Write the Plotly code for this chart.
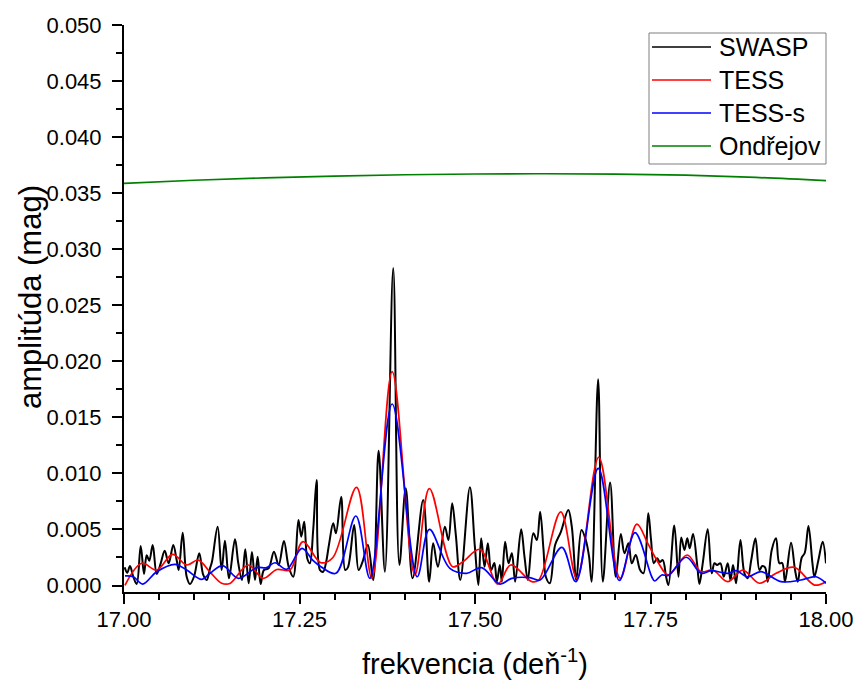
import plotly.graph_objects as go

# ---- data -------------------------------------------------------------
swasp_freq = [
    17.0010, 17.0047, 17.0085, 17.0132, 17.0181, 17.0238, 17.0285, 17.0323, 17.0360, 17.0409,
    17.0466, 17.0523, 17.0580, 17.0636, 17.0702, 17.0750, 17.0779, 17.0836, 17.0893, 17.0940,
    17.0997, 17.1072, 17.1129, 17.1178, 17.1225, 17.1253, 17.1334, 17.1391, 17.1438, 17.1495,
    17.1581, 17.1628, 17.1680, 17.1727, 17.1776, 17.1823, 17.1866, 17.1904, 17.1947, 17.1993,
    17.2060, 17.2136, 17.2203, 17.2278, 17.2345, 17.2411, 17.2485, 17.2525, 17.2567, 17.2610,
    17.2648, 17.2695, 17.2744, 17.2791, 17.2838, 17.2876, 17.2923, 17.2980, 17.3019, 17.3094,
    17.3151, 17.3190, 17.3279, 17.3342, 17.3399, 17.3474, 17.3550, 17.3627, 17.3717, 17.3835,
    17.3923, 17.4013, 17.4111, 17.4262, 17.4347, 17.4404, 17.4471, 17.4571, 17.4621, 17.4675,
    17.4727, 17.4791, 17.4927, 17.4998, 17.5048, 17.5088, 17.5136, 17.5183, 17.5230, 17.5276,
    17.5311, 17.5354, 17.5382, 17.5429, 17.5478, 17.5525, 17.5572, 17.5657, 17.5705, 17.5753,
    17.5831, 17.5881, 17.5928, 17.5976, 17.6009, 17.6066, 17.6141, 17.6222, 17.6329, 17.6379,
    17.6443, 17.6517, 17.6578, 17.6625, 17.6661, 17.6754, 17.6821, 17.6925, 17.7005, 17.7077,
    17.7129, 17.7186, 17.7233, 17.7290, 17.7352, 17.7400, 17.7468, 17.7508, 17.7547, 17.7594,
    17.7632, 17.7675, 17.7722, 17.7756, 17.7839, 17.7898, 17.7938, 17.7984, 17.8024, 17.8059,
    17.8106, 17.8163, 17.8197, 17.8244, 17.8315, 17.8372, 17.8411, 17.8448, 17.8496, 17.8543,
    17.8600, 17.8639, 17.8676, 17.8719, 17.8781, 17.8838, 17.8885, 17.8935, 17.8995, 17.9052,
    17.9092, 17.9132, 17.9170, 17.9227, 17.9288, 17.9336, 17.9376, 17.9416, 17.9502, 17.9559,
    17.9597, 17.9654, 17.9697, 17.9750, 17.9807, 17.9835, 17.9892, 17.9953, 18.0000,
]
swasp_amp = [
    0.00162, 0.00114, 0.00174, 0.00078, 0.00013, 0.00352, 0.00103, 0.00269, 0.00221, 0.00361,
    0.00103, 0.00198, 0.00310, 0.00198, 0.00361, 0.00227, 0.00138, 0.00471, 0.00078, 0.00013,
    0.00078, 0.00287, 0.00094, 0.00049, 0.00153, 0.00212, 0.00524, 0.00138, 0.00400, 0.00064,
    0.00412, 0.00198, 0.00049, 0.00323, 0.00020, 0.00299, 0.00049, 0.00257, 0.00013, 0.00138,
    0.00153, 0.00302, 0.00183, 0.00397, 0.00168, 0.00078, 0.00584, 0.00435, 0.00569, 0.00243,
    0.00198, 0.00495, 0.00941, 0.00138, 0.00123, 0.00198, 0.00376, 0.00555, 0.00466, 0.00792,
    0.00138, 0.00162, 0.00540, 0.00138, 0.00212, 0.00361, 0.00049, 0.01202, 0.00123, 0.02832,
    0.00183, 0.00867, 0.00064, 0.00763, 0.00034, 0.00376, 0.00168, 0.00524, 0.00406, 0.00733,
    0.00450, 0.00049, 0.00876, 0.00346, 0.00004, 0.00421, 0.00168, 0.00376, 0.00138, 0.00201,
    0.00034, 0.00183, 0.00034, 0.00391, 0.00198, 0.00287, 0.00034, 0.00501, 0.00257, 0.00049,
    0.00466, 0.00406, 0.00658, 0.00317, 0.00078, 0.00020, 0.00361, 0.00477, 0.00673, 0.00524,
    0.00049, 0.00495, 0.00406, 0.00257, 0.00034, 0.01839, 0.00034, 0.00919, 0.00078, 0.00459,
    0.00287, 0.00376, 0.00198, 0.00272, 0.00138, 0.00109, 0.00644, 0.00406, 0.00198, 0.00243,
    0.00210, 0.00227, 0.00078, 0.00004, 0.00535, 0.00078, 0.00428, 0.00317, 0.00421, 0.00332,
    0.00459, 0.00198, 0.00013, 0.00198, 0.00501, 0.00109, 0.00198, 0.00183, 0.00198, 0.00078,
    0.00198, 0.00049, 0.00183, 0.00020, 0.00406, 0.00109, 0.00064, 0.00227, 0.00421, 0.00138,
    0.00174, 0.00162, 0.00034, 0.00317, 0.00421, 0.00198, 0.00201, 0.00034, 0.00382, 0.00138,
    0.00034, 0.00248, 0.00290, 0.00531, 0.00198, 0.00078, 0.00227, 0.00391, 0.00198,
]

tess_freq = [
    17.0014, 17.0252, 17.0466, 17.0693, 17.0893, 17.1058, 17.1225, 17.1391, 17.1509, 17.1770,
    17.1983, 17.2178, 17.2364, 17.2549, 17.2805, 17.2976, 17.3313, 17.3531, 17.3820, 17.4143,
    17.4350, 17.4680, 17.4827, 17.5069, 17.5325, 17.5510, 17.5809, 17.5909, 17.6222, 17.6450,
    17.6763, 17.7067, 17.7305, 17.7461, 17.7603, 17.7753, 17.8021, 17.8220, 17.8387, 17.8600,
    17.8814, 17.9052, 17.9288, 17.9550, 17.9835, 18.0000,
]
tess_amp = [
    0.00002, 0.00198, 0.00138, 0.00278, 0.00183, 0.00227, 0.00120, 0.00020, 0.00018, 0.00183,
    0.00064, 0.00143, 0.00138, 0.00391, 0.00203, 0.00250, 0.00876, 0.00064, 0.01907, 0.00094,
    0.00865, 0.00168, 0.00212, 0.00323, 0.00013, 0.00183, 0.00034, 0.00049, 0.00656, 0.00064,
    0.01144, 0.00064, 0.00547, 0.00376, 0.00212, 0.00094, 0.00272, 0.00123, 0.00138, 0.00034,
    0.00138, 0.00020, 0.00109, 0.00162, 0.00004, 0.00034,
]

tess_s_freq = [
    17.0014, 17.0132, 17.0266, 17.0466, 17.0726, 17.0893, 17.1106, 17.1225, 17.1405, 17.1628,
    17.1889, 17.2032, 17.2150, 17.2317, 17.2535, 17.2687, 17.2805, 17.3019, 17.3303, 17.3503,
    17.3820, 17.4176, 17.4350, 17.4642, 17.4880, 17.5093, 17.5354, 17.5525, 17.5781, 17.5928,
    17.6237, 17.6436, 17.6756, 17.7055, 17.7279, 17.7518, 17.7561, 17.7660, 17.7753, 17.8009,
    17.8220, 17.8362, 17.8600, 17.8719, 17.8885, 17.9075, 17.9359, 17.9644, 17.9858, 18.0000,
]
tess_s_amp = [
    0.00085, 0.00078, 0.00013, 0.00123, 0.00189, 0.00138, 0.00055, 0.00109, 0.00177, 0.00064,
    0.00159, 0.00159, 0.00203, 0.00144, 0.00332, 0.00227, 0.00168, 0.00109, 0.00620, 0.00064,
    0.01619, 0.00078, 0.00501, 0.00153, 0.00109, 0.00159, 0.00013, 0.00064, 0.00070, 0.00049,
    0.00340, 0.00034, 0.01044, 0.00045, 0.00471, 0.00078, 0.00040, 0.00094, 0.00089, 0.00252,
    0.00109, 0.00132, 0.00109, 0.00132, 0.00078, 0.00123, 0.00034, 0.00049, 0.00078, 0.00020,
]

ondrejov_freq = [17.0, 17.1, 17.2, 17.3, 17.4, 17.5, 17.6, 17.7, 17.8, 17.9, 18.0]
ondrejov_amp = [0.03588, 0.03615, 0.03636, 0.03652, 0.03664, 0.03671, 0.03673, 0.03670,
                0.03660, 0.03640, 0.03611]

series_names = ["SWASP", "TESS", "TESS-s", "Ondřejov"]
series_colors = ["#000000", "#ff0000", "#0000ff", "#008000"]

x_ticks = [17.00, 17.25, 17.50, 17.75, 18.00]
y_ticks = [0.000, 0.005, 0.010, 0.015, 0.020, 0.025, 0.030, 0.035, 0.040, 0.045, 0.050]

# ---- figure -----------------------------------------------------------
W, H = 859, 686
L, R, T, B = 124, 33, 25, 94
FONT = "Liberation Sans, Arial, sans-serif"

fig = go.Figure()
series = [
    (swasp_freq, swasp_amp, 2.0),
    (tess_freq, tess_amp, 1.7),
    (tess_s_freq, tess_s_amp, 1.7),
    (ondrejov_freq, ondrejov_amp, 1.7),
]
for (fx, fy, lw), name, col in zip(series, series_names, series_colors):
    fig.add_trace(go.Scatter(
        x=fx, y=fy, mode="lines", name=name, showlegend=False,
        line=dict(color=col, width=lw, shape="spline", smoothing=1.0),
    ))

axis_common = dict(
    showgrid=False, zeroline=False, showline=True, linecolor="black", linewidth=2,
    ticks="outside", ticklen=10, tickwidth=2, tickcolor="black", automargin=False,
    tickfont=dict(family=FONT, size=22, color="black"),
)
fig.update_xaxes(
    range=[17.0, 18.0], tickvals=x_ticks, ticktext=[f"{v:.2f}" for v in x_ticks],
    minor=dict(dtick=0.05, ticks="outside", ticklen=6, tickwidth=1.5, tickcolor="black"),
    ticklabelstandoff=-3, **axis_common,
)
fig.update_yaxes(
    range=[-0.00058, 0.050], tickvals=y_ticks, ticktext=[f"{v:.3f}" for v in y_ticks],
    minor=dict(dtick=0.0025, tick0=0, ticks="outside", ticklen=6, tickwidth=1.5, tickcolor="black"),
    ticklabelstandoff=6, **axis_common,
)

pw, ph = W - L - R, H - T - B


def px_x(x):
    return (x - L) / pw


def px_y(y):
    return (H - B - y) / ph


annotations = [
    dict(text="amplitúda (mag)", x=px_x(30), y=px_y(297), xref="paper", yref="paper",
         textangle=-90, showarrow=False, xanchor="center", yanchor="middle",
         font=dict(family=FONT, size=31, color="black")),
    dict(text="frekvencia (deň<sup>-1</sup>)", x=px_x(475), y=px_y(662), xref="paper", yref="paper",
         showarrow=False, xanchor="center", yanchor="middle",
         font=dict(family=FONT, size=29, color="black")),
]
shapes = [
    dict(type="rect", xref="paper", yref="paper", x0=px_x(649), x1=px_x(826),
         y0=px_y(164), y1=px_y(33), line=dict(color="#7f7f7f", width=1), fillcolor="white"),
]
rows = [47, 80, 113, 146]
for name, col, ry in zip(series_names, series_colors, rows):
    shapes.append(dict(type="line", xref="paper", yref="paper", x0=px_x(652), x1=px_x(711),
                       y0=px_y(ry), y1=px_y(ry), line=dict(color=col, width=1.5)))
    annotations.append(dict(text=name, x=px_x(717), y=px_y(ry), xref="paper", yref="paper",
                            showarrow=False, xanchor="left", yanchor="middle",
                            font=dict(family=FONT, size=25, color="black")))

fig.update_layout(
    width=W, height=H, margin=dict(l=L, r=R, t=T, b=B),
    paper_bgcolor="white", plot_bgcolor="white",
    showlegend=False, shapes=shapes, annotations=annotations,
)

fig.write_html("out.html")
